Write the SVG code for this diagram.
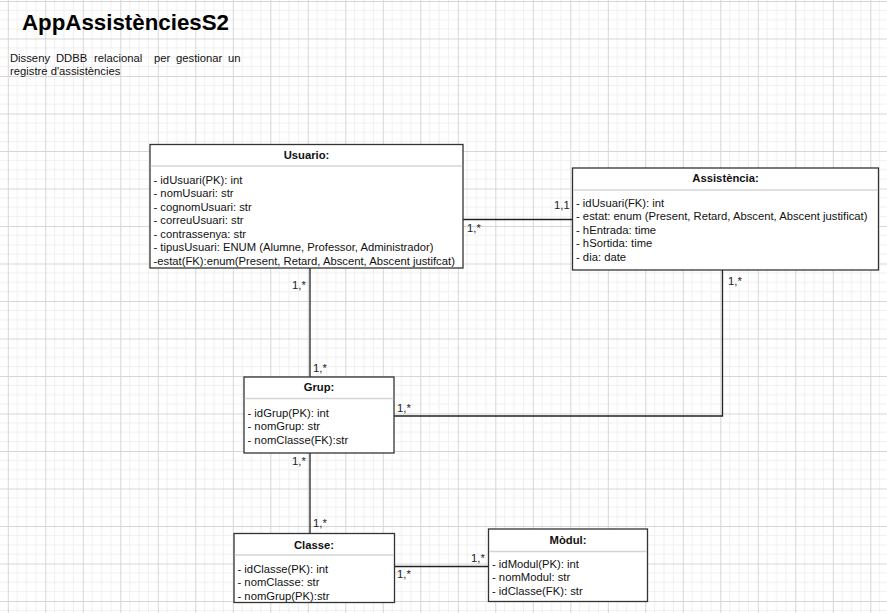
<svg xmlns="http://www.w3.org/2000/svg" width="887" height="613" viewBox="0 0 887 613">
<defs>
<pattern id="grid" patternUnits="userSpaceOnUse" x="7.8" y="1" width="37.5" height="37.5">
<path d="M9.375 0V37.5M18.75 0V37.5M28.125 0V37.5M0 9.375H37.5M0 18.75H37.5M0 28.125H37.5" stroke="#f0f0f0" stroke-width="1" fill="none"/>
<path d="M0.5 0V37.5M0 0.5H37.5" stroke="#d6d6d6" stroke-width="1" fill="none"/>
</pattern>
<style>
.box{fill:#fff;stroke:#333;stroke-width:1.3}
.sep{stroke:#d4d4d4;stroke-width:1.5}
.t{font-family:"Liberation Sans",Arial,sans-serif;font-size:11.25px;fill:#111}
.h{font-family:"Liberation Sans",Arial,sans-serif;font-size:11.25px;font-weight:bold;fill:#111;text-anchor:middle}
.c{stroke:#222;stroke-width:1.3;fill:none}
.l{font-family:"Liberation Sans",Arial,sans-serif;font-size:11.25px;fill:#222}
</style>
</defs>
<rect width="887" height="613" fill="#fff"/>
<rect width="887" height="613" fill="url(#grid)"/>

<g id="title">
<text x="22" y="30" style="font-family:'Liberation Sans',Arial,sans-serif;font-size:22.3px;font-weight:bold;fill:#000">AppAssistènciesS2</text>
<text class="t" y="62"><tspan x="10">Disseny</tspan><tspan x="56">DDBB</tspan><tspan x="94">relacional</tspan><tspan x="154">per</tspan><tspan x="176">gestionar</tspan><tspan x="228">un</tspan></text>
<text class="t" x="10" y="75">registre d'assistències</text>
</g>

<g id="connectors">
<path class="c" d="M463 219.5H572"/>
<path class="c" d="M310 268V377"/>
<path class="c" d="M722.5 270V416H394"/>
<path class="c" d="M310 453V533"/>
<path class="c" d="M394 566.5H488"/>
<text class="l" x="554" y="209">1,1</text>
<text class="l" x="467" y="232">1,*</text>
<text class="l" x="292" y="289">1,*</text>
<text class="l" x="313" y="372">1,*</text>
<text class="l" x="728" y="284.5">1,*</text>
<text class="l" x="397" y="412">1,*</text>
<text class="l" x="292" y="465">1,*</text>
<text class="l" x="313" y="527">1,*</text>
<text class="l" x="471" y="562">1,*</text>
<text class="l" x="397" y="578">1,*</text>
</g>

<g id="usuario">
<rect class="box" x="150" y="144.5" width="313" height="123.5"/>
<line class="sep" x1="150.7" y1="166" x2="462.3" y2="166"/>
<text class="h" x="306.5" y="159">Usuario:</text>
<text class="t" x="153.5" y="183.5">- idUsuari(PK): int</text>
<text class="t" x="153.5" y="197">- nomUsuari: str</text>
<text class="t" x="153.5" y="210.5">- cognomUsuari: str</text>
<text class="t" x="153.5" y="224">- correuUsuari: str</text>
<text class="t" x="153.5" y="237.5">- contrassenya: str</text>
<text class="t" x="153.5" y="251">- tipusUsuari: ENUM (Alumne, Professor, Administrador)</text>
<text class="t" x="153.5" y="264.5">-estat(FK):enum(Present, Retard, Abscent, Abscent justifcat)</text>
</g>

<g id="assistencia">
<rect class="box" x="572.5" y="168" width="306" height="102"/>
<line class="sep" x1="573.2" y1="190" x2="877.8" y2="190"/>
<text class="h" x="725.5" y="181.5">Assistència:</text>
<text class="t" x="576" y="206.5">- idUsuari(FK): int</text>
<text class="t" x="576" y="220">- estat: enum (Present, Retard, Abscent, Abscent justificat)</text>
<text class="t" x="576" y="233.5">- hEntrada: time</text>
<text class="t" x="576" y="247">- hSortida: time</text>
<text class="t" x="576" y="260.5">- dia: date</text>
</g>

<g id="grup">
<rect class="box" x="244" y="377" width="150" height="76"/>
<line class="sep" x1="244.7" y1="398.5" x2="393.3" y2="398.5"/>
<text class="h" x="319" y="391">Grup:</text>
<text class="t" x="247.5" y="416.5">- idGrup(PK): int</text>
<text class="t" x="247.5" y="430">- nomGrup: str</text>
<text class="t" x="247.5" y="443.5">- nomClasse(FK):str</text>
</g>

<g id="classe">
<rect class="box" x="234" y="533.5" width="160.5" height="69"/>
<line class="sep" x1="234.7" y1="555" x2="393.8" y2="555"/>
<text class="h" x="314" y="548.5">Classe:</text>
<text class="t" x="237.5" y="572.5">- idClasse(PK): int</text>
<text class="t" x="237.5" y="586">- nomClasse: str</text>
<text class="t" x="237.5" y="599.5">- nomGrup(PK):str</text>
</g>

<g id="modul">
<rect class="box" x="488.5" y="529" width="159" height="72.5"/>
<line class="sep" x1="489.2" y1="551.5" x2="646.8" y2="551.5"/>
<text class="h" x="568" y="543.5">Mòdul:</text>
<text class="t" x="492" y="567.5">- idModul(PK): int</text>
<text class="t" x="492" y="581">- nomModul: str</text>
<text class="t" x="492" y="594.5">- idClasse(FK): str</text>
</g>
</svg>
